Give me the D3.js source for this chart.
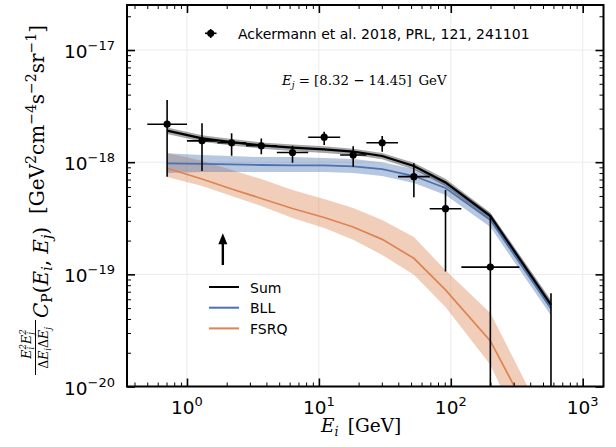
<!DOCTYPE html>
<html>
<head>
<meta charset="utf-8">
<script src="https://cdn.jsdelivr.net/npm/d3@7/dist/d3.min.js"></script>
<style>
body { margin: 0; background: #fff; }
svg { display: block; }
.sans { font-family: "DejaVu Sans", sans-serif; fill: #000; }
.serif { font-family: "DejaVu Serif", serif; fill: #000; }
</style>
</head>
<body>
<div id="chart"></div>
<script>
// energy bins E_i in GeV (Ackermann et al. 2018)
var binLo  = [0.5, 1.0, 1.7, 2.8, 4.8, 8.3, 14.5, 22.9, 39.8, 69.2, 120.2, 331.1]
var binHi  = [1.0, 1.7, 2.8, 4.8, 8.3, 14.5, 22.9, 39.8, 69.2, 120.2, 331.1, 1000]
var binMid = [0.707, 1.30, 2.18, 3.66, 6.31, 10.97, 18.2, 30.2, 52.5, 91.2, 199.5, 575]

// measured C_P points and error limits
var dataVal = [2.18e-18, 1.55e-18, 1.49e-18, 1.40e-18, 1.22e-18, 1.67e-18, 1.16e-18, 1.49e-18, 7.43e-19, 3.85e-19, 1.16e-19, 5e-21]
var dataUp  = [3.58e-18, 2.22e-18, 1.81e-18, 1.63e-18, 1.40e-18, 1.87e-18, 1.39e-18, 1.71e-18, 9.77e-19, 5.65e-19, 3.38e-19, 6.8e-20]
var dataLow = [7.43e-19, 8.35e-19, 1.14e-18, 1.175e-18, 9.9e-19, 1.42e-18, 9.12e-19, 1.24e-18, 4.86e-19, 1.06e-19, 1e-21, 1e-21]

// model curves
var sumVal = [1.91e-18, 1.63e-18, 1.51e-18, 1.41e-18, 1.35e-18, 1.30e-18, 1.24e-18, 1.135e-18, 9.25e-19, 6.6e-19, 3.31e-19, 5.34e-20]
var sumLo  = [1.78e-18, 1.52e-18, 1.41e-18, 1.32e-18, 1.26e-18, 1.21e-18, 1.16e-18, 1.06e-18, 8.6e-19, 6.1e-19, 3.05e-19, 4.8e-20]
var sumHi  = [2.04e-18, 1.74e-18, 1.61e-18, 1.50e-18, 1.44e-18, 1.39e-18, 1.32e-18, 1.21e-18, 9.9e-19, 7.1e-19, 3.55e-19, 5.9e-20]

var bllVal = [9.77e-19, 9.64e-19, 9.54e-19, 9.44e-19, 9.38e-19, 9.35e-19, 9.16e-19, 8.69e-19, 7.53e-19, 5.89e-19, 3.05e-19, 4.97e-20]
var bllLo  = [8.01e-19, 8.18e-19, 8.18e-19, 8.18e-19, 8.18e-19, 8.18e-19, 8.01e-19, 7.53e-19, 6.53e-19, 5.1e-19, 2.64e-19, 4.3e-20]
var bllHi  = [1.2e-18, 1.16e-18, 1.135e-18, 1.11e-18, 1.11e-18, 1.09e-18, 1.07e-18, 1.0e-18, 8.69e-19, 6.8e-19, 3.52e-19, 5.71e-20]

var fsrqVal = [8.83e-19, 7.08e-19, 5.77e-19, 4.75e-19, 3.86e-19, 3.21e-19, 2.64e-19, 2.05e-19, 1.39e-19, 7.26e-20, 2.55e-20, 2.41e-21]
var fsrqLo  = [7.38e-19, 6.14e-19, 5.0e-19, 4.07e-19, 3.18e-19, 2.59e-19, 2.03e-19, 1.49e-19, 9.9e-20, 5.12e-20, 1.56e-20, 1.1e-21]
var fsrqHi  = [1.21e-18, 1.03e-18, 8.51e-19, 7.08e-19, 5.65e-19, 4.70e-19, 3.91e-19, 3.05e-19, 2.15e-19, 1.09e-19, 4.53e-20, 3.9e-21]

// arrow annotation (x in GeV, y from/to)
var arrowX = 1.87
var arrowY = [1.21e-19, 2.32e-19]

var xMajor = [1, 10, 100, 1000]
var xMajorExp = ['0', '1', '2', '3']
var yMajor = [1e-20, 1e-19, 1e-18, 1e-17]
var yMajorExp = ['\u221220', '\u221219', '\u221218', '\u221217']

var legendNames = ['Sum', 'BLL', 'FSRQ']
var legendColors = ['#000000', '#4c72b0', '#dd8452']

var width = 616, height = 447
var margin = {top: 5, right: 12.5, bottom: 60.5, left: 127}
var w = width - margin.left - margin.right
var h = height - margin.top - margin.bottom

var x = d3.scaleLog().domain([0.351, 1438]).range([0, w])
var y = d3.scaleLog().domain([1e-20, 2.52e-17]).range([h, 0])

var svg = d3.select('#chart').append('svg')
    .attr('width', width)
    .attr('height', height)

var g = svg.append('g')
    .attr('transform', 'translate(' + margin.left + ',' + margin.top + ')')

g.append('clipPath').attr('id', 'clip')
    .append('rect').attr('width', w).attr('height', h)

// grid
var grid = g.append('g').attr('stroke', '#ebebeb').attr('stroke-width', 1)
grid.selectAll('.gx').data(xMajor).enter().append('line')
    .attr('x1', function(d){ return x(d) }).attr('x2', function(d){ return x(d) })
    .attr('y1', 0).attr('y2', h)
grid.selectAll('.gy').data(yMajor).enter().append('line')
    .attr('y1', function(d){ return y(d) }).attr('y2', function(d){ return y(d) })
    .attr('x1', 0).attr('x2', w)

var plot = g.append('g').attr('clip-path', 'url(#clip)')

var idx = d3.range(binMid.length)
function band(lo, hi) {
    return d3.area()
        .x(function(i){ return x(binMid[i]) })
        .y0(function(i){ return y(lo[i]) })
        .y1(function(i){ return y(hi[i]) })(idx)
}
function curve(v) {
    return d3.line()
        .x(function(i){ return x(binMid[i]) })
        .y(function(i){ return y(v[i]) })(idx)
}

plot.append('path').attr('d', band(fsrqLo, fsrqHi)).attr('fill', '#dd8452').attr('fill-opacity', 0.4)
plot.append('path').attr('d', band(bllLo, bllHi)).attr('fill', '#4c72b0').attr('fill-opacity', 0.4)
plot.append('path').attr('d', band(sumLo, sumHi)).attr('fill', '#000').attr('fill-opacity', 0.35)

plot.append('path').attr('d', curve(fsrqVal)).attr('fill', 'none').attr('stroke', '#dd8452').attr('stroke-width', 1.7)
plot.append('path').attr('d', curve(bllVal)).attr('fill', 'none').attr('stroke', '#4c72b0').attr('stroke-width', 1.8)
plot.append('path').attr('d', curve(sumVal)).attr('fill', 'none').attr('stroke', '#000').attr('stroke-width', 2.2)

// data points with error bars
var pts = plot.append('g').selectAll('g').data(idx).enter().append('g')
pts.append('line')
    .attr('x1', function(i){ return x(binLo[i]) }).attr('x2', function(i){ return x(binHi[i]) })
    .attr('y1', function(i){ return y(dataVal[i]) }).attr('y2', function(i){ return y(dataVal[i]) })
    .attr('stroke', '#000').attr('stroke-width', 1.6)
pts.append('line')
    .attr('x1', function(i){ return x(binMid[i]) }).attr('x2', function(i){ return x(binMid[i]) })
    .attr('y1', function(i){ return y(dataLow[i]) }).attr('y2', function(i){ return y(dataUp[i]) })
    .attr('stroke', '#000').attr('stroke-width', 1.6)
pts.append('circle')
    .attr('cx', function(i){ return x(binMid[i]) })
    .attr('cy', function(i){ return y(dataVal[i]) })
    .attr('r', 3.6).attr('fill', '#000')

// arrow
var ax = x(arrowX), ay0 = y(arrowY[0]), ay1 = y(arrowY[1])
g.append('line').attr('x1', ax).attr('x2', ax).attr('y1', ay0).attr('y2', ay1 + 9)
    .attr('stroke', '#000').attr('stroke-width', 2.4)
g.append('path')
    .attr('d', 'M' + (ax - 4.5) + ',' + (ay1 + 11) + 'L' + ax + ',' + ay1 + 'L' + (ax + 4.5) + ',' + (ay1 + 11) + 'Z')
    .attr('fill', '#000')

// ticks (inward on all four sides)
var xMinor = [], yMinor = []
;[0.1, 1, 10, 100, 1000].forEach(function(d){ for (var k = 2; k < 10; k++) { var v = d * k; if (v > 0.351 && v < 1438) xMinor.push(v) } })
;[1e-20, 1e-19, 1e-18, 1e-17].forEach(function(d){ for (var k = 2; k < 10; k++) { var v = d * k; if (v < 2.52e-17) yMinor.push(v) } })

function ticks(axisFn, scale, vals, size, sw, tr) {
    var a = g.append('g').attr('transform', tr)
        .call(axisFn(scale).tickValues(vals).tickSize(-size).tickFormat(''))
    a.select('.domain').remove()
    a.selectAll('line').attr('stroke', '#000').attr('stroke-width', sw)
}
ticks(d3.axisBottom, x, xMajor, 8, 1.6, 'translate(0,' + h + ')')
ticks(d3.axisBottom, x, xMinor, 4, 1, 'translate(0,' + h + ')')
ticks(d3.axisTop, x, xMajor, 8, 1.6, 'translate(0,0)')
ticks(d3.axisTop, x, xMinor, 4, 1, 'translate(0,0)')
ticks(d3.axisLeft, y, yMajor, 8, 1.6, 'translate(0,0)')
ticks(d3.axisLeft, y, yMinor, 4, 1, 'translate(0,0)')
ticks(d3.axisRight, y, yMajor, 8, 1.6, 'translate(' + w + ',0)')
ticks(d3.axisRight, y, yMinor, 4, 1, 'translate(' + w + ',0)')

g.append('rect').attr('width', w).attr('height', h)
    .attr('fill', 'none').attr('stroke', '#000').attr('stroke-width', 2)

// tick labels
var xl = g.selectAll('.xl').data(xMajor).enter().append('text')
    .attr('class', 'sans').attr('x', function(d){ return x(d) }).attr('y', h + 27)
    .attr('text-anchor', 'middle').attr('font-size', 18.5)
xl.append('tspan').text('10')
xl.append('tspan').attr('dy', -8).attr('font-size', 13).text(function(d, i){ return xMajorExp[i] })

var yl = g.selectAll('.yl').data(yMajor).enter().append('text')
    .attr('class', 'sans').attr('x', -12).attr('y', function(d){ return y(d) + 8 })
    .attr('text-anchor', 'end').attr('font-size', 18.5)
yl.append('tspan').text('10')
yl.append('tspan').attr('dy', -8).attr('font-size', 13).text(function(d, i){ return yMajorExp[i] })

// x label
var xt = svg.append('text').attr('class', 'serif').attr('x', 321).attr('y', 432).attr('font-size', 18.5)
xt.append('tspan').attr('font-style', 'italic').text('E')
xt.append('tspan').attr('font-style', 'italic').attr('font-size', 12.5).attr('dy', 4).text('i')
xt.append('tspan').attr('dy', -4).text('\u2002[GeV]')

// y label (rotated)
var yt = svg.append('g').attr('transform', 'rotate(-90)')
var num = yt.append('text').attr('class', 'serif').attr('x', -344).attr('y', 31)
    .attr('text-anchor', 'middle').attr('font-size', 12.5).attr('font-style', 'italic')
num.append('tspan').text('E')
num.append('tspan').attr('font-size', 8.5).attr('dy', 3).text('i')
num.append('tspan').attr('font-size', 8.5).attr('dy', -8).attr('dx', -2.5).text('2')
num.append('tspan').attr('dy', 5).text('E')
num.append('tspan').attr('font-size', 8.5).attr('dy', 3).text('j')
num.append('tspan').attr('font-size', 8.5).attr('dy', -8).attr('dx', -2.5).text('2')
yt.append('line').attr('x1', -375).attr('x2', -320).attr('y1', 35.5).attr('y2', 35.5)
    .attr('stroke', '#000').attr('stroke-width', 1)
var den = yt.append('text').attr('class', 'serif').attr('x', -348).attr('y', 48)
    .attr('text-anchor', 'middle').attr('font-size', 12.5)
den.append('tspan').text('\u0394')
den.append('tspan').attr('font-style', 'italic').text('E')
den.append('tspan').attr('font-style', 'italic').attr('font-size', 8.5).attr('dy', 3).text('i')
den.append('tspan').attr('dy', -3).text('\u0394')
den.append('tspan').attr('font-style', 'italic').text('E')
den.append('tspan').attr('font-style', 'italic').attr('font-size', 8.5).attr('dy', 3).text('j')

var cp = yt.append('text').attr('class', 'serif').attr('x', -318).attr('y', 48).attr('font-size', 20)
cp.append('tspan').attr('font-style', 'italic').text('C')
cp.append('tspan').attr('font-size', 14).attr('dy', 4).text('P')
cp.append('tspan').attr('dy', -4).text('(')
cp.append('tspan').attr('font-style', 'italic').text('E')
cp.append('tspan').attr('font-style', 'italic').attr('font-size', 14).attr('dy', 4).text('i')
cp.append('tspan').attr('dy', -4).text(', ')
cp.append('tspan').attr('font-style', 'italic').text('E')
cp.append('tspan').attr('font-style', 'italic').attr('font-size', 14).attr('dy', 4).text('j')
cp.append('tspan').attr('dy', -4).text(')')

var un = yt.append('text').attr('class', 'serif').attr('x', -214).attr('y', 44).attr('font-size', 20)
un.append('tspan').text('[GeV')
un.append('tspan').attr('font-size', 14).attr('dy', -8).text('2')
un.append('tspan').attr('dy', 8).text('cm')
un.append('tspan').attr('font-size', 14).attr('dy', -8).text('\u22124')
un.append('tspan').attr('dy', 8).text('s')
un.append('tspan').attr('font-size', 14).attr('dy', -8).text('\u22122')
un.append('tspan').attr('dy', 8).text('sr')
un.append('tspan').attr('font-size', 14).attr('dy', -8).text('\u22121')
un.append('tspan').attr('dy', 8).text(']')

// data legend (top)
var lg = svg.append('g')
lg.append('line').attr('x1', 205).attr('x2', 216.5).attr('y1', 33.3).attr('y2', 33.3).attr('stroke', '#000').attr('stroke-width', 1.6)
lg.append('line').attr('x1', 210.7).attr('x2', 210.7).attr('y1', 29).attr('y2', 38).attr('stroke', '#000').attr('stroke-width', 1.6)
lg.append('circle').attr('cx', 210.7).attr('cy', 33.3).attr('r', 3.6).attr('fill', '#000')
lg.append('text').attr('class', 'sans').attr('x', 238).attr('y', 39).attr('font-size', 14)
    .text('Ackermann et al. 2018, PRL, 121, 241101')

// energy range annotation
var ej = svg.append('text').attr('class', 'serif').attr('x', 282).attr('y', 85).attr('font-size', 13.3)
ej.append('tspan').attr('font-style', 'italic').text('E')
ej.append('tspan').attr('font-style', 'italic').attr('font-size', 9).attr('dy', 3).text('j')
ej.append('tspan').attr('dy', -3).text(' = [8.32 \u2212 14.45]\u2002GeV')

// model legend
var ml = svg.append('g').selectAll('g').data(legendNames).enter().append('g')
    .attr('transform', function(d, i){ return 'translate(0,' + (287 + i * 20.7) + ')' })
ml.append('line').attr('x1', 209).attr('x2', 239).attr('y1', 0).attr('y2', 0)
    .attr('stroke', function(d, i){ return legendColors[i] }).attr('stroke-width', 2)
ml.append('text').attr('class', 'sans').attr('x', 250).attr('y', 5.5).attr('font-size', 14)
    .text(function(d){ return d })
</script>
</body>
</html>
